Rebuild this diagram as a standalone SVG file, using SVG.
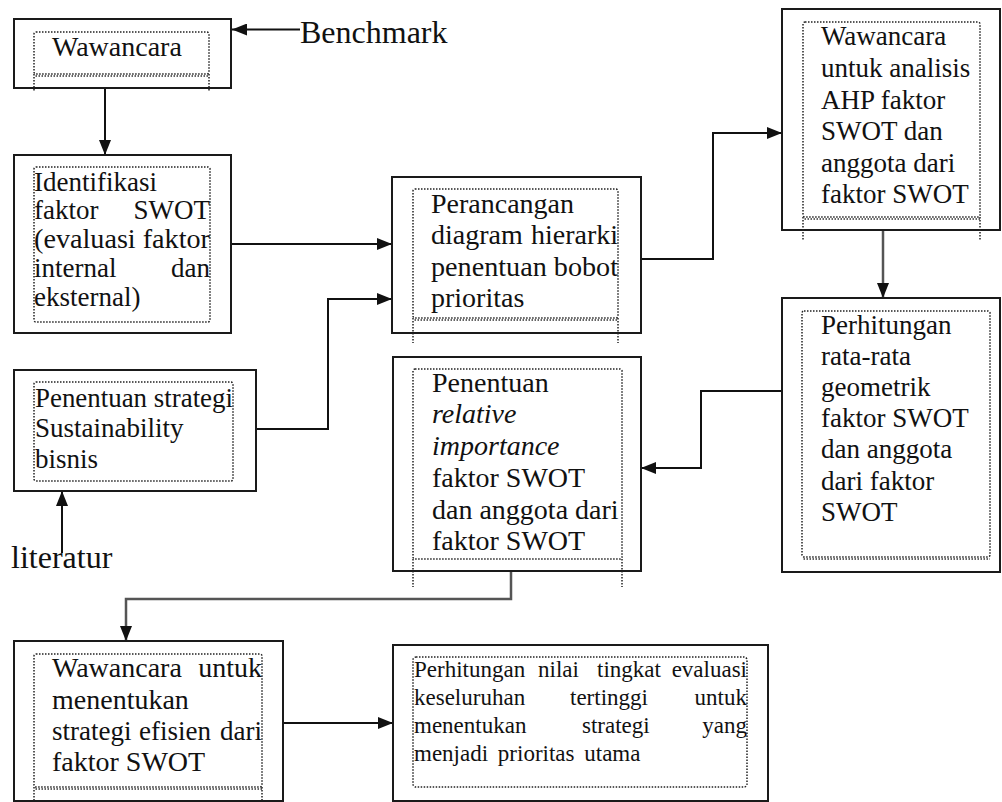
<svg xmlns="http://www.w3.org/2000/svg" width="1002" height="802" viewBox="0 0 1002 802">
<style>
.box{fill:#fff;stroke:#1a1a1a;stroke-width:2}
.dot{fill:none;stroke:#222;stroke-width:1.5;stroke-dasharray:1.5 1.5}
.wav{fill:none;stroke:#333;stroke-width:1.5;stroke-dasharray:1.5 1.5;stroke-dashoffset:1.5}
text{font-family:"Liberation Serif",serif;fill:#111}
.t{font-size:27px}
.u{font-size:28px}
.s{font-size:23px}
.lbl{font-size:32px}
.i{font-style:italic}
.e{text-anchor:end}
.conn{fill:none;stroke:#111;stroke-width:2}
.gray{stroke:#555;stroke-width:2.5}
</style>
<defs>
<marker id="arr" viewBox="0 0 15 12" refX="15" refY="6" markerWidth="15" markerHeight="12" markerUnits="userSpaceOnUse" orient="auto">
<path d="M0,0 L15,6 L0,12 z" fill="#111"/>
</marker>
</defs>

<g id="connectors">
<path class="conn" d="M300,29.5 H232" marker-end="url(#arr)"/>
<path class="conn" d="M105,88 V155" marker-end="url(#arr)"/>
<path class="conn" d="M231,244 H392" marker-end="url(#arr)"/>
<path class="conn" d="M256,429 H328 V299 H392" marker-end="url(#arr)"/>
<path class="conn" d="M62,553 V491" marker-end="url(#arr)"/>
<path class="conn" d="M641,259 H713 V133 H782" marker-end="url(#arr)"/>
<path class="conn gray" d="M883,230 V298" marker-end="url(#arr)"/>
<path class="conn" d="M782,391 H701 V468 H641" marker-end="url(#arr)"/>
<path class="conn gray" d="M511,571 V599 H126 V641" marker-end="url(#arr)"/>
<path class="conn" d="M283,723 H393" marker-end="url(#arr)"/>
</g>

<g id="label-benchmark"><text class="lbl" x="300" y="43">Benchmark</text></g>
<g id="label-literatur"><text class="lbl" x="11" y="568">literatur</text></g>

<g id="n-wawancara">
<rect class="box" x="14" y="19" width="217" height="69"/>
<rect class="dot" x="34" y="32" width="175" height="42" rx="2"/>
<path class="wav" d="M34,76 H209"/>
<path class="dot" d="M34,74 V92 M209,74 V92"/>
<text class="u" x="52" y="56">Wawancara</text>
</g>

<g id="n-identifikasi">
<rect class="box" x="14" y="155" width="217" height="178"/>
<rect class="dot" x="34" y="167" width="176" height="155" rx="2"/>
<text class="t" x="34" y="191">Identifikasi</text>
<text class="t" x="34" y="219">faktor</text><text class="t e" x="210" y="219">SWOT</text>
<text class="t" x="34" y="248" textLength="176" lengthAdjust="spacingAndGlyphs">(evaluasi faktor</text>
<text class="t" x="34" y="277">internal</text><text class="t e" x="210" y="277">dan</text>
<text class="t" x="34" y="306">eksternal)</text>
</g>

<g id="n-strategi">
<rect class="box" x="14" y="370" width="242" height="121"/>
<rect class="dot" x="34" y="382" width="199" height="99" rx="2"/>
<text class="t" x="35" y="407" textLength="198" lengthAdjust="spacingAndGlyphs">Penentuan strategi</text>
<text class="t" x="35" y="437">Sustainability</text>
<text class="t" x="35" y="468">bisnis</text>
</g>

<g id="n-perancangan">
<rect class="box" x="392" y="177" width="249" height="156"/>
<rect class="dot" x="413" y="189" width="205" height="129" rx="2"/>
<path class="wav" d="M413,320 H618"/>
<path class="dot" d="M413,318 V343 M618,318 V343"/>
<text class="u" x="431" y="213">Perancangan</text>
<text class="u" x="431" y="244">diagram</text><text class="u e" x="618" y="244">hierarki</text>
<text class="u" x="431" y="276" textLength="187" lengthAdjust="spacingAndGlyphs">penentuan bobot</text>
<text class="u" x="431" y="307">prioritas</text>
</g>

<g id="n-ahp">
<rect class="box" x="782" y="9" width="218" height="221"/>
<rect class="dot" x="803" y="22" width="177" height="195" rx="2"/>
<path class="wav" d="M803,219 H980"/>
<path class="dot" d="M803,217 V240 M980,217 V240"/>
<text class="t" x="821" y="45">Wawancara</text>
<text class="t" x="821" y="77">untuk analisis</text>
<text class="t" x="821" y="109">AHP faktor</text>
<text class="t" x="821" y="140">SWOT dan</text>
<text class="t" x="821" y="172">anggota dari</text>
<text class="t" x="821" y="203">faktor SWOT</text>
</g>

<g id="n-geometrik">
<rect class="box" x="782" y="298" width="218" height="274"/>
<rect class="dot" x="802" y="311" width="188" height="246" rx="2"/>
<path class="wav" d="M802,559 H990"/>
<text class="t" x="821" y="334">Perhitungan</text>
<text class="t" x="821" y="365">rata-rata</text>
<text class="t" x="821" y="396">geometrik</text>
<text class="t" x="821" y="427">faktor SWOT</text>
<text class="t" x="821" y="458">dan anggota</text>
<text class="t" x="821" y="490">dari faktor</text>
<text class="t" x="821" y="521">SWOT</text>
</g>

<g id="n-relative">
<rect class="box" x="393" y="357" width="248" height="214"/>
<rect class="dot" x="413" y="369" width="209" height="190" rx="2"/>
<path class="dot" d="M413,559 V587 M622,559 V587"/>
<text class="u" x="432" y="392">Penentuan</text>
<text class="u i" x="432" y="423">relative</text>
<text class="u i" x="432" y="455">importance</text>
<text class="u" x="432" y="487">faktor SWOT</text>
<text class="u" x="432" y="519">dan anggota dari</text>
<text class="u" x="432" y="550">faktor SWOT</text>
</g>

<g id="n-efisien">
<rect class="box" x="14" y="641" width="269" height="160"/>
<rect class="dot" x="34" y="654" width="228" height="133" rx="2"/>
<path class="wav" d="M34,789 H262"/>
<path class="dot" d="M34,787 V802 M262,787 V802"/>
<text class="u" x="52" y="677">Wawancara</text><text class="u e" x="262" y="677">untuk</text>
<text class="u" x="52" y="709">menentukan</text>
<text class="t" x="52" y="740">strategi</text><text class="t" x="139" y="740">efisien</text><text class="t e" x="262" y="740">dari</text>
<text class="u" x="52" y="771">faktor SWOT</text>
</g>

<g id="n-prioritas">
<rect class="box" x="393" y="645" width="375" height="156"/>
<rect class="dot" x="413" y="657" width="334" height="130" rx="3"/>
<text class="s" x="414" y="677">Perhitungan</text><text class="s" x="538" y="677">nilai</text><text class="s" x="597" y="677">tingkat</text><text class="s e" x="747" y="677">evaluasi</text>
<text class="s" x="414" y="705">keseluruhan</text><text class="s" x="570" y="705">tertinggi</text><text class="s e" x="747" y="705">untuk</text>
<text class="s" x="414" y="733">menentukan</text><text class="s" x="582" y="733">strategi</text><text class="s e" x="747" y="733">yang</text>
<text class="s" x="414" y="761" word-spacing="4">menjadi prioritas utama</text>
</g>
</svg>
